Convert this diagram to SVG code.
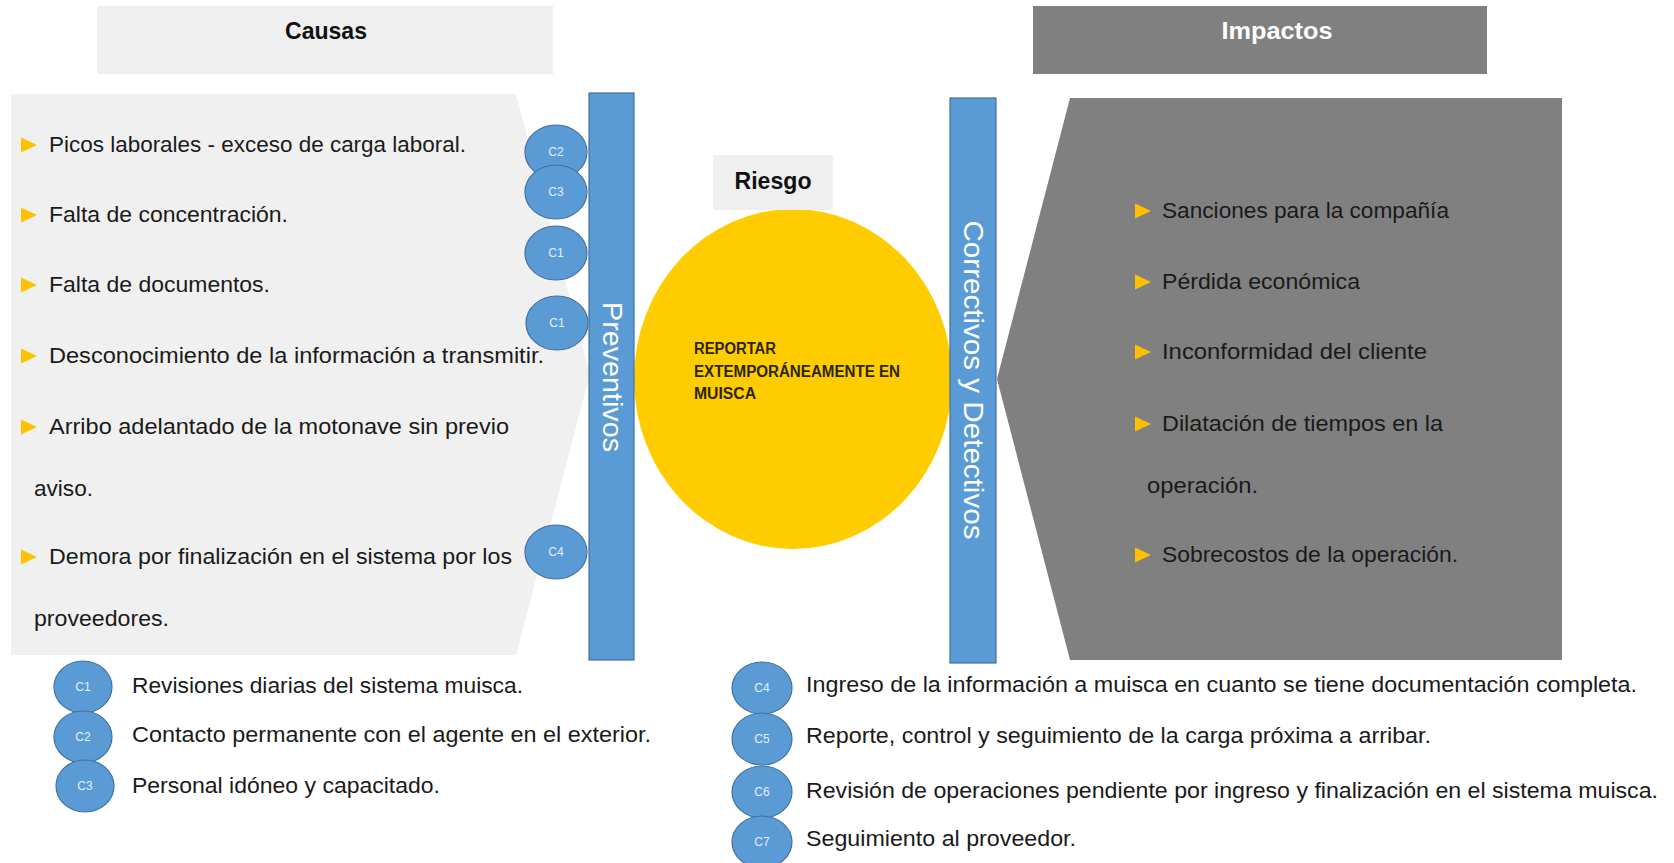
<svg xmlns="http://www.w3.org/2000/svg" width="1674" height="863" viewBox="0 0 1674 863">
<defs>
<style>
.t{font-family:"Liberation Sans",Arial,sans-serif;font-size:22px;fill:#1a1a1a}
.h{font-family:"Liberation Sans",Arial,sans-serif;font-size:24px;font-weight:bold;fill:#111}
.bar{fill:#5b9bd5;stroke:#41719c;stroke-width:1.2}
.bt{font-family:"Liberation Sans",Arial,sans-serif;font-size:28px;fill:#ffffff}
.c{fill:#5b9bd5;stroke:#41719c;stroke-width:1.2}
.ct{font-family:"Liberation Sans",Arial,sans-serif;font-size:12px;fill:#e6eef8;text-anchor:middle}
.bul{fill:#ffc000}
.r{font-family:"Liberation Sans",Arial,sans-serif;font-size:16px;font-weight:bold;fill:#2b2600}
</style>
<polygon id="tri" points="0,-7.5 16,0 0,7.5"/>
</defs>
<rect width="1674" height="863" fill="#ffffff"/>

<g id="causas-header">
<rect x="97" y="6" width="456" height="68" fill="#efefef"/>
<text class="h" x="326" y="39" text-anchor="middle" textLength="82" lengthAdjust="spacingAndGlyphs">Causas</text>
</g>

<g id="impactos-header">
<rect x="1033" y="6" width="454" height="68" fill="#808080"/>
<text class="h" x="1277" y="39" text-anchor="middle" textLength="111" lengthAdjust="spacingAndGlyphs" style="fill:#ffffff">Impactos</text>
</g>

<g id="causas-panel">
<polygon points="11,94 516,94 590,374 516,655 11,655" fill="#f0f0f0"/>
<use href="#tri" class="bul" x="21" y="145"/>
<text class="t" x="49" y="152" textLength="417" lengthAdjust="spacingAndGlyphs">Picos laborales - exceso de carga laboral.</text>
<use href="#tri" class="bul" x="21" y="215"/>
<text class="t" x="49" y="222" textLength="239" lengthAdjust="spacingAndGlyphs">Falta de concentración.</text>
<use href="#tri" class="bul" x="21" y="285"/>
<text class="t" x="49" y="292" textLength="221" lengthAdjust="spacingAndGlyphs">Falta de documentos.</text>
<use href="#tri" class="bul" x="21" y="356"/>
<text class="t" x="49" y="363" textLength="495" lengthAdjust="spacingAndGlyphs">Desconocimiento de la información a transmitir.</text>
<use href="#tri" class="bul" x="21" y="427"/>
<text class="t" x="49" y="434" textLength="460" lengthAdjust="spacingAndGlyphs">Arribo adelantado de la motonave sin previo</text>
<text class="t" x="34" y="496" textLength="59" lengthAdjust="spacingAndGlyphs">aviso.</text>
<use href="#tri" class="bul" x="21" y="557"/>
<text class="t" x="49" y="564" textLength="463" lengthAdjust="spacingAndGlyphs">Demora por finalización en el sistema por los</text>
<text class="t" x="34" y="626" textLength="135" lengthAdjust="spacingAndGlyphs">proveedores.</text>
</g>

<g id="impactos-panel">
<polygon points="1070,98 1562,98 1562,660 1070,660 997,379" fill="#808080"/>
<use href="#tri" class="bul" x="1135" y="211"/>
<text class="t" x="1162" y="218" textLength="287" lengthAdjust="spacingAndGlyphs">Sanciones para la compañía</text>
<use href="#tri" class="bul" x="1135" y="282"/>
<text class="t" x="1162" y="289" textLength="198" lengthAdjust="spacingAndGlyphs">Pérdida económica</text>
<use href="#tri" class="bul" x="1135" y="352"/>
<text class="t" x="1162" y="359" textLength="265" lengthAdjust="spacingAndGlyphs">Inconformidad del cliente</text>
<use href="#tri" class="bul" x="1135" y="424"/>
<text class="t" x="1162" y="431" textLength="281" lengthAdjust="spacingAndGlyphs">Dilatación de tiempos en la</text>
<text class="t" x="1147" y="493" textLength="111" lengthAdjust="spacingAndGlyphs">operación.</text>
<use href="#tri" class="bul" x="1135" y="555"/>
<text class="t" x="1162" y="562" textLength="296" lengthAdjust="spacingAndGlyphs">Sobrecostos de la operación.</text>
</g>

<g id="riesgo">
<ellipse cx="793" cy="379" rx="159" ry="170" fill="#ffcc00"/>
<rect x="713" y="155" width="120" height="55" fill="#efefef"/>
<text class="h" x="773" y="189" text-anchor="middle" textLength="77" lengthAdjust="spacingAndGlyphs">Riesgo</text>
<text class="r" x="694" y="354" textLength="82" lengthAdjust="spacingAndGlyphs">REPORTAR</text>
<text class="r" x="694" y="377" textLength="206" lengthAdjust="spacingAndGlyphs">EXTEMPORÁNEAMENTE EN</text>
<text class="r" x="694" y="399" textLength="62" lengthAdjust="spacingAndGlyphs">MUISCA</text>
</g>

<g id="preventivos">
<rect class="bar" x="589" y="93" width="45" height="567"/>
<text class="bt" x="612" y="377" text-anchor="middle" dominant-baseline="central" transform="rotate(90 612 377)" textLength="150" lengthAdjust="spacingAndGlyphs">Preventivos</text>
</g>

<g id="correctivos">
<rect class="bar" x="950" y="98" width="46" height="565"/>
<text class="bt" x="973" y="380" text-anchor="middle" dominant-baseline="central" transform="rotate(90 973 380)" textLength="319" lengthAdjust="spacingAndGlyphs">Correctivos y Detectivos</text>
</g>

<g id="control-markers">
<ellipse class="c" cx="556" cy="152" rx="31" ry="27"/>
<text class="ct" x="556" y="156">C2</text>
<ellipse class="c" cx="556" cy="192" rx="31" ry="27"/>
<text class="ct" x="556" y="196">C3</text>
<ellipse class="c" cx="556" cy="253" rx="31" ry="27"/>
<text class="ct" x="556" y="257">C1</text>
<ellipse class="c" cx="557" cy="323" rx="31" ry="27"/>
<text class="ct" x="557" y="327">C1</text>
<ellipse class="c" cx="556" cy="552" rx="31" ry="27"/>
<text class="ct" x="556" y="556">C4</text>
</g>

<g id="legend-preventivos">
<ellipse class="c" cx="83" cy="687" rx="29" ry="26"/>
<text class="ct" x="83" y="691">C1</text>
<ellipse class="c" cx="83" cy="737" rx="29" ry="26"/>
<text class="ct" x="83" y="741">C2</text>
<ellipse class="c" cx="85" cy="786" rx="29" ry="26"/>
<text class="ct" x="85" y="790">C3</text>
<text class="t" x="132" y="693" textLength="391" lengthAdjust="spacingAndGlyphs">Revisiones diarias del sistema muisca.</text>
<text class="t" x="132" y="742" textLength="519" lengthAdjust="spacingAndGlyphs">Contacto permanente con el agente en el exterior.</text>
<text class="t" x="132" y="793" textLength="308" lengthAdjust="spacingAndGlyphs">Personal idóneo y capacitado.</text>
</g>

<g id="legend-correctivos">
<ellipse class="c" cx="762" cy="688" rx="30" ry="26"/>
<text class="ct" x="762" y="692">C4</text>
<ellipse class="c" cx="762" cy="739" rx="30" ry="26"/>
<text class="ct" x="762" y="743">C5</text>
<ellipse class="c" cx="762" cy="792" rx="30" ry="26"/>
<text class="ct" x="762" y="796">C6</text>
<ellipse class="c" cx="762" cy="842" rx="30" ry="26"/>
<text class="ct" x="762" y="846">C7</text>
<text class="t" x="806" y="692" textLength="831" lengthAdjust="spacingAndGlyphs">Ingreso de la información a muisca en cuanto se tiene documentación completa.</text>
<text class="t" x="806" y="743" textLength="625" lengthAdjust="spacingAndGlyphs">Reporte, control y seguimiento de la carga próxima a arribar.</text>
<text class="t" x="806" y="798" textLength="852" lengthAdjust="spacingAndGlyphs">Revisión de operaciones pendiente por ingreso y finalización en el sistema muisca.</text>
<text class="t" x="806" y="846" textLength="270" lengthAdjust="spacingAndGlyphs">Seguimiento al proveedor.</text>
</g>

<g id="connectors"></g>
</svg>
